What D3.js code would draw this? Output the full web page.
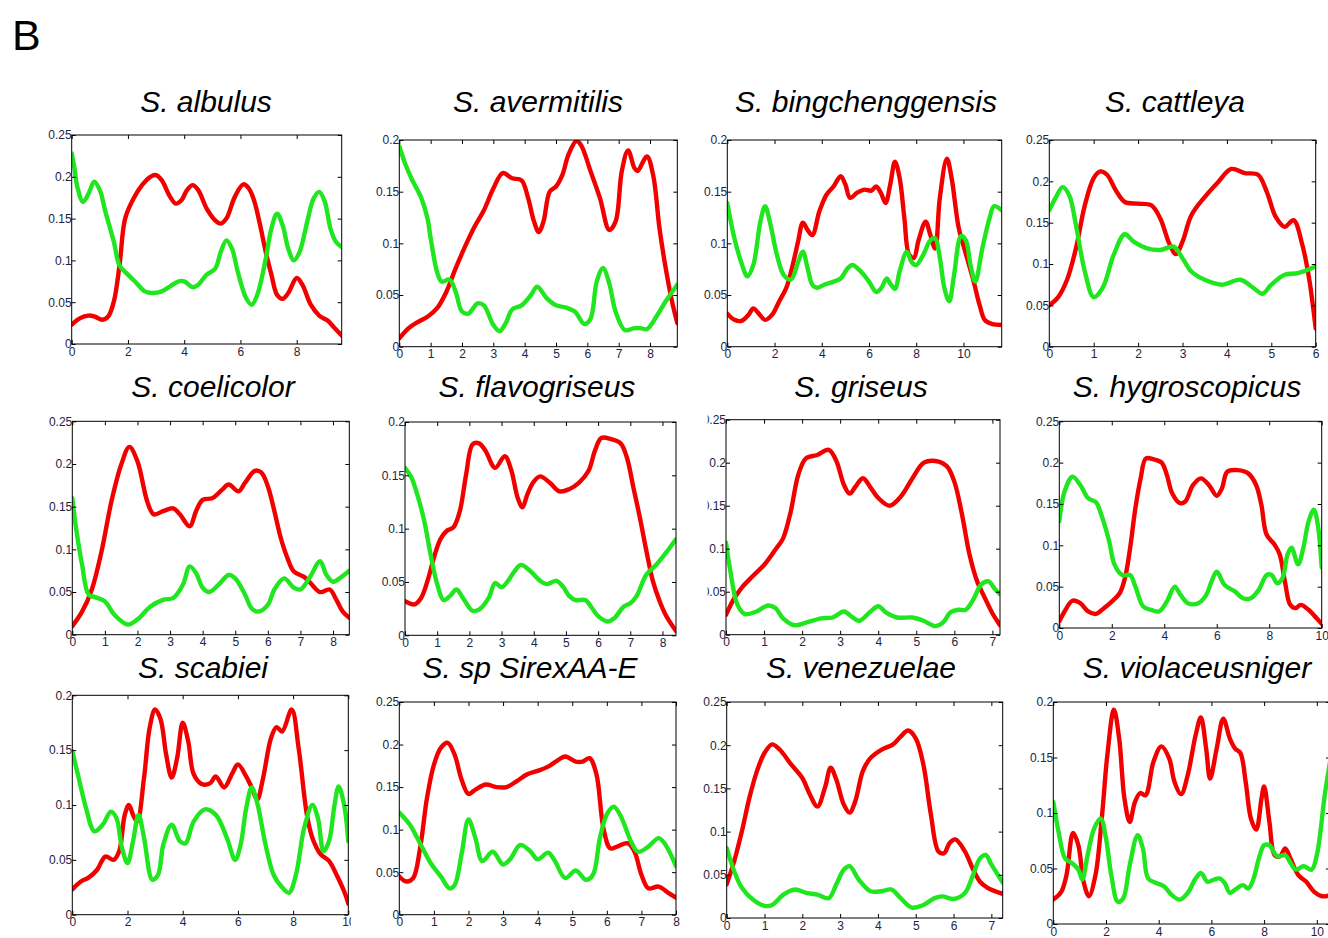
<!DOCTYPE html>
<html>
<head>
<meta charset="utf-8">
<script src="https://cdn.jsdelivr.net/npm/d3@7/dist/d3.min.js"></script>
<style>
  html, body { margin: 0; padding: 0; background: #fff; }
  svg { display: block; }
</style>
</head>
<body>
<svg id="fig" width="1328" height="938"></svg>
<script>
// ---- Panel titles and axis ranges ----
const species = [
  "S. albulus", "S. avermitilis", "S. bingchenggensis", "S. cattleya",
  "S. coelicolor", "S. flavogriseus", "S. griseus", "S. hygroscopicus",
  "S. scabiei", "S. sp SirexAA-E", "S. venezuelae", "S. violaceusniger"
];
const xMax = [9.6, 8.87, 11.62, 6, 8.5, 8.42, 7.2, 10, 10, 8, 7.3, 10.5];
const yMax = [0.25, 0.2, 0.2, 0.25, 0.25, 0.2, 0.25, 0.25, 0.2, 0.25, 0.25, 0.2];
const xTickStep = [2, 1, 2, 1, 1, 1, 1, 2, 2, 1, 1, 2];
const yTickStep = 0.05;

// ---- Profiles: [position, value] ----
const albulusRed = [[0,0.023],[0.3,0.031],[0.6,0.034],[0.8,0.033],[1.1,0.029],[1.3,0.033],[1.5,0.051],[1.7,0.094],[1.9,0.150],[2.2,0.174],[2.5,0.190],[2.8,0.200],[3.0,0.202],[3.2,0.196],[3.5,0.176],[3.7,0.168],[3.9,0.172],[4.1,0.184],[4.3,0.190],[4.5,0.184],[4.8,0.162],[5.1,0.148],[5.3,0.144],[5.5,0.150],[5.8,0.176],[6.1,0.191],[6.3,0.186],[6.5,0.170],[6.7,0.142],[6.9,0.110],[7.1,0.083],[7.3,0.059],[7.5,0.054],[7.7,0.061],[8.0,0.079],[8.2,0.071],[8.5,0.047],[8.8,0.034],[9.1,0.028],[9.3,0.021],[9.6,0.010]];
const albulusGreen = [[0,0.228],[0.1,0.210],[0.2,0.188],[0.4,0.170],[0.6,0.180],[0.8,0.194],[1.0,0.184],[1.2,0.158],[1.5,0.122],[1.7,0.094],[2.0,0.083],[2.3,0.073],[2.6,0.063],[2.9,0.061],[3.2,0.063],[3.5,0.069],[3.8,0.075],[4.0,0.075],[4.3,0.068],[4.5,0.071],[4.8,0.083],[5.1,0.090],[5.3,0.110],[5.5,0.124],[5.7,0.114],[5.9,0.087],[6.2,0.055],[6.4,0.047],[6.6,0.059],[6.9,0.102],[7.1,0.138],[7.3,0.156],[7.5,0.142],[7.7,0.114],[7.9,0.100],[8.1,0.110],[8.4,0.150],[8.6,0.174],[8.8,0.182],[9.0,0.170],[9.2,0.138],[9.4,0.122],[9.6,0.116]];

const avermitilisRed = [[0,0.008],[0.3,0.018],[0.6,0.024],[0.9,0.029],[1.2,0.037],[1.5,0.053],[1.8,0.076],[2.1,0.097],[2.4,0.116],[2.7,0.132],[3.0,0.153],[3.3,0.168],[3.6,0.163],[3.9,0.161],[4.1,0.145],[4.3,0.121],[4.45,0.111],[4.6,0.121],[4.8,0.150],[5.0,0.155],[5.2,0.166],[5.4,0.186],[5.65,0.199],[5.8,0.195],[6.1,0.170],[6.4,0.144],[6.7,0.113],[6.9,0.121],[7.1,0.170],[7.3,0.190],[7.5,0.173],[7.6,0.170],[7.9,0.184],[8.1,0.166],[8.3,0.115],[8.5,0.076],[8.7,0.044],[8.87,0.023]];
const avermitilisGreen = [[0,0.194],[0.2,0.176],[0.4,0.162],[0.7,0.144],[0.9,0.124],[1.0,0.105],[1.2,0.073],[1.35,0.063],[1.6,0.065],[1.8,0.053],[2.0,0.034],[2.2,0.032],[2.5,0.042],[2.7,0.040],[3.0,0.021],[3.2,0.015],[3.4,0.023],[3.6,0.036],[3.9,0.040],[4.2,0.050],[4.4,0.058],[4.7,0.047],[5.0,0.040],[5.3,0.038],[5.6,0.034],[5.9,0.022],[6.1,0.027],[6.3,0.063],[6.5,0.076],[6.7,0.061],[6.9,0.034],[7.2,0.016],[7.5,0.018],[7.7,0.018],[7.9,0.017],[8.2,0.029],[8.5,0.044],[8.87,0.060]];

const bingchenggensisRed = [[0,0.032],[0.3,0.026],[0.6,0.025],[0.9,0.031],[1.1,0.037],[1.3,0.033],[1.6,0.026],[1.9,0.031],[2.2,0.044],[2.5,0.057],[2.8,0.082],[3.0,0.102],[3.2,0.120],[3.4,0.113],[3.6,0.108],[3.9,0.131],[4.2,0.147],[4.5,0.155],[4.8,0.165],[5.0,0.157],[5.2,0.144],[5.5,0.149],[5.8,0.152],[6.1,0.151],[6.3,0.155],[6.5,0.149],[6.7,0.139],[6.9,0.157],[7.1,0.179],[7.3,0.163],[7.5,0.124],[7.7,0.089],[7.9,0.086],[8.1,0.103],[8.4,0.121],[8.6,0.108],[8.8,0.095],[9.0,0.144],[9.3,0.182],[9.5,0.163],[9.8,0.115],[10.1,0.090],[10.4,0.066],[10.7,0.039],[10.9,0.026],[11.2,0.022],[11.62,0.021]];
const bingchenggensisGreen = [[0,0.139],[0.3,0.105],[0.6,0.081],[0.85,0.068],[1.1,0.079],[1.4,0.121],[1.6,0.136],[1.8,0.121],[2.1,0.089],[2.4,0.069],[2.7,0.065],[3.0,0.082],[3.2,0.092],[3.4,0.076],[3.6,0.060],[3.8,0.057],[4.1,0.060],[4.5,0.063],[4.8,0.066],[5.1,0.076],[5.3,0.079],[5.6,0.074],[6.0,0.063],[6.3,0.053],[6.5,0.056],[6.75,0.066],[6.9,0.061],[7.1,0.056],[7.3,0.073],[7.6,0.092],[7.8,0.082],[8.0,0.079],[8.3,0.089],[8.6,0.103],[8.8,0.105],[9.0,0.086],[9.2,0.056],[9.4,0.044],[9.6,0.069],[9.9,0.107],[10.1,0.103],[10.3,0.079],[10.5,0.063],[10.8,0.095],[11.1,0.124],[11.3,0.136],[11.62,0.132]];

const cattleyaRed = [[0,0.050],[0.2,0.060],[0.4,0.081],[0.6,0.119],[0.8,0.171],[1.0,0.204],[1.15,0.212],[1.3,0.208],[1.5,0.189],[1.7,0.175],[2.0,0.173],[2.3,0.171],[2.5,0.155],[2.7,0.125],[2.85,0.112],[3.0,0.127],[3.2,0.159],[3.5,0.181],[3.8,0.199],[4.1,0.215],[4.4,0.210],[4.7,0.208],[4.9,0.187],[5.1,0.157],[5.3,0.145],[5.5,0.153],[5.7,0.123],[5.85,0.083],[6.0,0.022]];
const cattleyaGreen = [[0,0.165],[0.15,0.181],[0.3,0.193],[0.45,0.183],[0.6,0.147],[0.8,0.091],[1.0,0.060],[1.2,0.071],[1.45,0.111],[1.7,0.136],[1.9,0.127],[2.2,0.119],[2.5,0.117],[2.8,0.121],[3.0,0.107],[3.2,0.091],[3.5,0.081],[3.9,0.075],[4.3,0.081],[4.6,0.071],[4.8,0.064],[5.0,0.075],[5.3,0.087],[5.6,0.089],[6.0,0.097]];

const coelicolorRed = [[0,0.010],[0.3,0.027],[0.6,0.053],[0.9,0.098],[1.2,0.156],[1.5,0.199],[1.75,0.220],[2.0,0.203],[2.3,0.156],[2.5,0.141],[2.8,0.145],[3.1,0.148],[3.3,0.141],[3.6,0.127],[3.8,0.145],[4.0,0.158],[4.3,0.160],[4.6,0.170],[4.8,0.176],[5.1,0.168],[5.3,0.178],[5.6,0.192],[5.8,0.190],[6.0,0.174],[6.2,0.145],[6.4,0.113],[6.6,0.090],[6.8,0.074],[7.1,0.068],[7.3,0.061],[7.6,0.050],[7.9,0.053],[8.1,0.041],[8.3,0.027],[8.5,0.020]];
const coelicolorGreen = [[0,0.160],[0.1,0.129],[0.3,0.082],[0.5,0.047],[0.7,0.044],[1.0,0.039],[1.3,0.023],[1.7,0.012],[2.0,0.018],[2.4,0.033],[2.8,0.041],[3.1,0.043],[3.4,0.059],[3.6,0.080],[3.8,0.072],[4.0,0.055],[4.2,0.050],[4.5,0.059],[4.8,0.070],[5.0,0.066],[5.3,0.047],[5.5,0.031],[5.7,0.027],[6.0,0.035],[6.2,0.053],[6.5,0.066],[6.8,0.055],[7.0,0.053],[7.3,0.068],[7.6,0.086],[7.8,0.070],[8.0,0.062],[8.2,0.066],[8.5,0.075]];

const flavogriseusRed = [[0,0.032],[0.3,0.029],[0.5,0.035],[0.7,0.051],[0.9,0.073],[1.1,0.090],[1.3,0.098],[1.5,0.101],[1.7,0.116],[1.9,0.151],[2.1,0.179],[2.3,0.180],[2.5,0.173],[2.8,0.157],[3.1,0.168],[3.3,0.155],[3.5,0.129],[3.65,0.120],[3.8,0.132],[4.0,0.144],[4.2,0.149],[4.5,0.143],[4.8,0.135],[5.1,0.137],[5.4,0.143],[5.7,0.154],[5.9,0.173],[6.1,0.185],[6.4,0.184],[6.7,0.180],[6.9,0.166],[7.1,0.138],[7.3,0.110],[7.5,0.079],[7.7,0.051],[7.9,0.033],[8.1,0.019],[8.42,0.004]];
const flavogriseusGreen = [[0,0.157],[0.2,0.148],[0.4,0.130],[0.6,0.107],[0.8,0.075],[1.0,0.048],[1.2,0.033],[1.4,0.037],[1.6,0.043],[1.8,0.035],[2.1,0.023],[2.3,0.024],[2.6,0.035],[2.8,0.049],[3.0,0.045],[3.2,0.051],[3.4,0.060],[3.6,0.066],[3.9,0.060],[4.2,0.051],[4.4,0.048],[4.7,0.051],[4.9,0.046],[5.1,0.037],[5.3,0.033],[5.6,0.033],[5.8,0.026],[6.0,0.018],[6.3,0.013],[6.5,0.016],[6.8,0.027],[7.0,0.030],[7.2,0.037],[7.5,0.057],[7.8,0.066],[8.1,0.077],[8.42,0.090]];

const griseusRed = [[0,0.023],[0.2,0.041],[0.4,0.054],[0.7,0.068],[1.0,0.081],[1.3,0.099],[1.5,0.112],[1.7,0.143],[1.9,0.186],[2.1,0.205],[2.4,0.209],[2.7,0.215],[2.9,0.202],[3.1,0.174],[3.25,0.164],[3.4,0.172],[3.6,0.182],[3.8,0.171],[4.0,0.159],[4.3,0.150],[4.6,0.161],[4.9,0.182],[5.2,0.200],[5.5,0.202],[5.8,0.196],[6.0,0.178],[6.2,0.140],[6.4,0.093],[6.6,0.062],[6.8,0.043],[7.0,0.025],[7.2,0.011]];
const griseusGreen = [[0,0.107],[0.1,0.078],[0.3,0.035],[0.5,0.024],[0.8,0.027],[1.1,0.034],[1.3,0.031],[1.5,0.019],[1.8,0.011],[2.1,0.014],[2.5,0.019],[2.8,0.020],[3.1,0.027],[3.3,0.021],[3.5,0.016],[3.8,0.027],[4.0,0.033],[4.2,0.026],[4.5,0.020],[4.9,0.020],[5.2,0.016],[5.5,0.010],[5.7,0.014],[5.9,0.026],[6.1,0.029],[6.3,0.029],[6.5,0.041],[6.7,0.058],[6.9,0.062],[7.05,0.054],[7.2,0.047]];

const hygroscopicusRed = [[0,0.008],[0.2,0.020],[0.5,0.033],[0.8,0.030],[1.1,0.020],[1.4,0.017],[1.7,0.024],[2.0,0.032],[2.3,0.042],[2.5,0.060],[2.7,0.097],[2.9,0.145],[3.1,0.181],[3.3,0.205],[3.6,0.204],[3.9,0.200],[4.1,0.185],[4.3,0.163],[4.6,0.151],[4.8,0.153],[5.1,0.173],[5.4,0.181],[5.7,0.173],[6.0,0.160],[6.2,0.169],[6.4,0.189],[6.8,0.191],[7.2,0.187],[7.5,0.173],[7.7,0.149],[7.9,0.113],[8.2,0.101],[8.4,0.089],[8.6,0.056],[8.8,0.028],[9.0,0.024],[9.2,0.028],[9.5,0.022],[9.8,0.012],[10,0.005]];
const hygroscopicusGreen = [[0,0.129],[0.2,0.165],[0.5,0.183],[0.8,0.173],[1.1,0.157],[1.4,0.152],[1.6,0.137],[1.9,0.105],[2.1,0.077],[2.4,0.064],[2.7,0.064],[2.9,0.050],[3.2,0.026],[3.5,0.022],[3.8,0.020],[4.1,0.032],[4.4,0.050],[4.6,0.041],[4.9,0.030],[5.3,0.030],[5.6,0.040],[5.8,0.056],[6.0,0.068],[6.3,0.052],[6.7,0.044],[7.0,0.036],[7.3,0.036],[7.6,0.046],[7.9,0.064],[8.1,0.064],[8.3,0.054],[8.5,0.060],[8.7,0.089],[8.85,0.097],[9.1,0.077],[9.3,0.097],[9.5,0.129],[9.7,0.143],[9.85,0.125],[10,0.073]];

const scabieiRed = [[0,0.023],[0.3,0.030],[0.6,0.034],[0.9,0.041],[1.2,0.053],[1.5,0.050],[1.7,0.058],[1.9,0.091],[2.05,0.100],[2.2,0.091],[2.35,0.085],[2.6,0.125],[2.8,0.170],[3.0,0.187],[3.2,0.178],[3.4,0.146],[3.6,0.125],[3.8,0.143],[4.0,0.175],[4.2,0.158],[4.4,0.128],[4.7,0.119],[5.0,0.120],[5.2,0.126],[5.5,0.116],[5.8,0.129],[6.0,0.137],[6.3,0.126],[6.5,0.116],[6.7,0.105],[6.9,0.123],[7.2,0.161],[7.4,0.171],[7.6,0.167],[7.95,0.187],[8.2,0.152],[8.5,0.091],[8.7,0.070],[9.0,0.055],[9.3,0.049],[9.6,0.035],[9.9,0.018],[10,0.010]];
const scabieiGreen = [[0,0.149],[0.2,0.128],[0.5,0.097],[0.8,0.076],[1.1,0.082],[1.4,0.094],[1.6,0.088],[1.8,0.061],[2.0,0.047],[2.2,0.067],[2.4,0.091],[2.6,0.070],[2.9,0.032],[3.1,0.036],[3.3,0.064],[3.6,0.082],[3.9,0.067],[4.1,0.065],[4.4,0.085],[4.8,0.096],[5.2,0.091],[5.6,0.070],[5.9,0.050],[6.1,0.064],[6.3,0.097],[6.5,0.116],[6.7,0.102],[7.0,0.064],[7.3,0.036],[7.6,0.025],[7.85,0.020],[8.1,0.036],[8.4,0.079],[8.7,0.100],[8.9,0.088],[9.1,0.058],[9.3,0.067],[9.5,0.100],[9.65,0.117],[9.85,0.100],[10,0.067]];

const sirexRed = [[0,0.045],[0.2,0.039],[0.4,0.043],[0.6,0.078],[0.8,0.137],[1.0,0.176],[1.2,0.196],[1.4,0.202],[1.6,0.188],[1.8,0.159],[2.0,0.142],[2.2,0.147],[2.5,0.153],[2.8,0.150],[3.1,0.150],[3.4,0.157],[3.7,0.165],[4.0,0.169],[4.3,0.174],[4.6,0.182],[4.8,0.186],[5.1,0.180],[5.3,0.180],[5.5,0.184],[5.7,0.165],[5.9,0.102],[6.1,0.078],[6.3,0.080],[6.6,0.084],[6.8,0.074],[7.0,0.047],[7.2,0.031],[7.5,0.033],[7.8,0.025],[8.0,0.020]];
const sirexGreen = [[0,0.120],[0.3,0.106],[0.6,0.084],[0.9,0.061],[1.2,0.045],[1.45,0.031],[1.6,0.035],[1.8,0.071],[2.0,0.112],[2.2,0.090],[2.4,0.063],[2.7,0.074],[3.0,0.059],[3.2,0.065],[3.5,0.082],[3.8,0.074],[4.0,0.065],[4.3,0.073],[4.5,0.063],[4.8,0.043],[5.1,0.052],[5.4,0.041],[5.6,0.047],[5.8,0.090],[6.0,0.118],[6.2,0.127],[6.4,0.116],[6.7,0.086],[6.9,0.074],[7.2,0.080],[7.5,0.090],[7.7,0.082],[8.0,0.057]];

const venezuelaeRed = [[0,0.039],[0.2,0.066],[0.4,0.100],[0.6,0.139],[0.8,0.170],[1.0,0.191],[1.2,0.201],[1.4,0.195],[1.7,0.178],[2.0,0.162],[2.2,0.143],[2.4,0.129],[2.6,0.151],[2.75,0.174],[2.9,0.160],[3.1,0.131],[3.25,0.122],[3.4,0.135],[3.6,0.170],[3.8,0.185],[4.1,0.195],[4.4,0.201],[4.6,0.210],[4.8,0.217],[5.0,0.208],[5.2,0.178],[5.4,0.120],[5.6,0.077],[5.75,0.075],[5.9,0.087],[6.05,0.091],[6.3,0.077],[6.5,0.058],[6.7,0.042],[6.9,0.035],[7.1,0.031],[7.3,0.028]];
const venezuelaeGreen = [[0,0.081],[0.2,0.054],[0.4,0.035],[0.7,0.021],[1.0,0.014],[1.2,0.015],[1.5,0.027],[1.8,0.033],[2.1,0.029],[2.4,0.027],[2.7,0.023],[2.9,0.039],[3.1,0.056],[3.25,0.060],[3.5,0.044],[3.8,0.031],[4.1,0.031],[4.35,0.033],[4.6,0.023],[4.9,0.012],[5.2,0.015],[5.5,0.023],[5.7,0.025],[6.0,0.022],[6.3,0.029],[6.5,0.048],[6.7,0.069],[6.85,0.073],[7.0,0.062],[7.3,0.041]];

const violaceusnigerRed = [[0,0.022],[0.3,0.029],[0.5,0.044],[0.75,0.082],[0.95,0.071],[1.15,0.038],[1.35,0.025],[1.6,0.044],[1.85,0.098],[2.05,0.152],[2.3,0.193],[2.5,0.167],[2.7,0.113],[2.9,0.092],[3.1,0.110],[3.3,0.118],[3.5,0.116],[3.8,0.146],[4.1,0.160],[4.4,0.149],[4.6,0.128],[4.85,0.117],[5.1,0.134],[5.4,0.170],[5.6,0.186],[5.8,0.158],[5.95,0.131],[6.2,0.158],[6.45,0.185],[6.7,0.167],[6.9,0.158],[7.1,0.154],[7.3,0.128],[7.5,0.095],[7.7,0.085],[7.9,0.113],[8.0,0.124],[8.2,0.092],[8.4,0.062],[8.6,0.061],[8.8,0.068],[9.0,0.059],[9.3,0.044],[9.6,0.038],[9.9,0.029],[10.2,0.025],[10.5,0.026]];
const violaceusnigerGreen = [[0,0.110],[0.2,0.083],[0.45,0.059],[0.7,0.055],[0.95,0.049],[1.1,0.040],[1.3,0.062],[1.55,0.086],[1.8,0.095],[2.0,0.077],[2.2,0.044],[2.45,0.020],[2.65,0.023],[2.9,0.053],[3.2,0.080],[3.4,0.068],[3.6,0.041],[3.9,0.037],[4.2,0.034],[4.5,0.026],[4.8,0.022],[5.1,0.028],[5.4,0.041],[5.6,0.046],[5.85,0.038],[6.1,0.040],[6.3,0.041],[6.5,0.037],[6.7,0.028],[6.9,0.031],[7.2,0.035],[7.4,0.032],[7.6,0.041],[7.8,0.059],[8.0,0.071],[8.2,0.071],[8.5,0.061],[8.8,0.062],[9.0,0.055],[9.2,0.049],[9.5,0.052],[9.8,0.049],[10.0,0.062],[10.3,0.116],[10.5,0.146]];

const redProfiles = [albulusRed, avermitilisRed, bingchenggensisRed, cattleyaRed, coelicolorRed, flavogriseusRed, griseusRed, hygroscopicusRed, scabieiRed, sirexRed, venezuelaeRed, violaceusnigerRed];
const greenProfiles = [albulusGreen, avermitilisGreen, bingchenggensisGreen, cattleyaGreen, coelicolorGreen, flavogriseusGreen, griseusGreen, hygroscopicusGreen, scabieiGreen, sirexGreen, venezuelaeGreen, violaceusnigerGreen];

// ---- Layout: plot boxes [left, top, right, bottom] and title anchors ----
const plotBoxes = [
  [71.7, 135, 341.7, 344], [399.3, 140, 677.3, 346.7], [727.3, 140, 1001.7, 346.7], [1049.3, 140, 1315.7, 346.7],
  [72.3, 421.3, 349.3, 634.7], [405, 422, 676, 635.3], [726, 419.7, 1000, 634.7], [1059.3, 421.3, 1321.7, 628],
  [72.3, 695.3, 348.3, 914.7], [399.3, 702, 676, 914.7], [726.7, 702, 1002.7, 918], [1053.3, 702, 1330, 924]
];
const titleX = [206, 538, 866, 1175, 213, 537, 861, 1187, 203, 530, 861, 1197];
const titleBaseline = [112, 397, 678];
// horizontal clip window for tick labels, where the original subfigure was trimmed
const labelClip = [null, null, null, null, null, null, [707.5, 1328], null, [0, 351], null, null, null];

const RED = "#f20000";
const GREEN = "#1fe61f";
const INK = "#1c2440";
const FONT = "'Liberation Sans', Arial, Helvetica, sans-serif";

const svg = d3.select("#fig");
const defs = svg.append("defs");

svg.append("text")
  .attr("x", 12).attr("y", 50)
  .attr("font-family", FONT).attr("font-size", 43)
  .attr("fill", "#000")
  .text("B");

const fmt = v => String(+v.toFixed(2));

species.forEach((name, i) => {
  const [L, T, R, B] = plotBoxes[i];
  const x = d3.scaleLinear().domain([0, xMax[i]]).range([L, R]);
  const y = d3.scaleLinear().domain([0, yMax[i]]).range([B, T]);
  const xTicks = d3.range(0, xMax[i] + 1e-9, xTickStep[i]);
  const yTicks = d3.range(0, yMax[i] + 1e-9, yTickStep);

  const g = svg.append("g").attr("class", "panel");

  // title
  g.append("text")
    .attr("x", titleX[i]).attr("y", titleBaseline[Math.floor(i / 4)])
    .attr("text-anchor", "middle")
    .attr("font-family", FONT).attr("font-style", "italic").attr("font-size", 30)
    .attr("fill", "#000")
    .text(name);

  // clip for the curves
  const clipId = "plot-clip-" + i;
  defs.append("clipPath").attr("id", clipId)
    .append("rect").attr("x", L).attr("y", T).attr("width", R - L).attr("height", B - T);

  const line = d3.line()
    .x(d => x(d[0])).y(d => y(d[1]))
    .curve(d3.curveCatmullRom.alpha(0.5));

  const curves = g.append("g").attr("clip-path", `url(#${clipId})`);
  curves.append("path").datum(redProfiles[i])
    .attr("d", line).attr("fill", "none")
    .attr("stroke", RED).attr("stroke-width", 4.4)
    .attr("stroke-linejoin", "round").attr("stroke-linecap", "round");
  curves.append("path").datum(greenProfiles[i])
    .attr("d", line).attr("fill", "none")
    .attr("stroke", GREEN).attr("stroke-width", 4.4)
    .attr("stroke-linejoin", "round").attr("stroke-linecap", "round");

  // frame
  g.append("rect")
    .attr("x", L).attr("y", T).attr("width", R - L).attr("height", B - T)
    .attr("fill", "none").attr("stroke", "#000").attr("stroke-width", 1);

  // labelled axes (ticks point inward)
  const labels = g.append("g");
  if (labelClip[i]) {
    const cid = "label-clip-" + i;
    defs.append("clipPath").attr("id", cid)
      .append("rect").attr("x", labelClip[i][0]).attr("y", 0)
      .attr("width", labelClip[i][1] - labelClip[i][0]).attr("height", 938);
    labels.attr("clip-path", `url(#${cid})`);
  }

  const styleAxis = sel => {
    sel.select(".domain").remove();
    sel.selectAll(".tick line").attr("stroke", "#000");
    sel.selectAll(".tick text")
      .attr("font-family", FONT).attr("font-size", 12).attr("fill", INK);
  };

  labels.append("g").attr("transform", `translate(0,${B})`)
    .call(d3.axisBottom(x).tickValues(xTicks).tickFormat(fmt).tickSize(-4).tickPadding(3))
    .call(styleAxis);
  labels.append("g").attr("transform", `translate(${L},0)`)
    .call(d3.axisLeft(y).tickValues(yTicks).tickFormat(fmt).tickSize(-4).tickPadding(0))
    .call(styleAxis);
  g.append("g").attr("transform", `translate(0,${T})`)
    .call(d3.axisTop(x).tickValues(xTicks).tickFormat("").tickSize(-4))
    .call(styleAxis);
  g.append("g").attr("transform", `translate(${R},0)`)
    .call(d3.axisRight(y).tickValues(yTicks).tickFormat("").tickSize(-4))
    .call(styleAxis);
});
</script>
</body>
</html>
